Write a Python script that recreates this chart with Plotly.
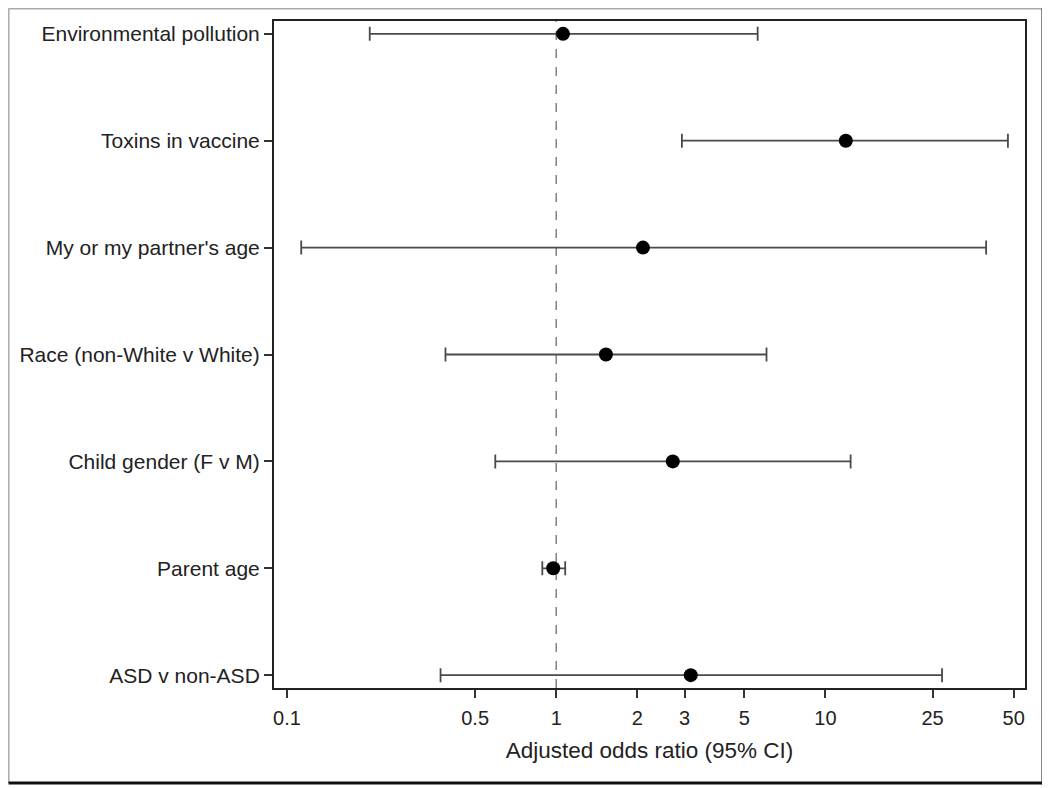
import plotly.graph_objects as go

categories = ["Environmental pollution", "Toxins in vaccine", "My or my partner's age",
              "Race (non-White v White)", "Child gender (F v M)", "Parent age", "ASD v non-ASD"]
odds_ratio = [1.06, 11.9, 2.10, 1.53, 2.71, 0.975, 3.16]
ci_lower = [0.203, 2.93, 0.113, 0.388, 0.594, 0.888, 0.372]
ci_upper = [5.6, 47.6, 39.5, 6.04, 12.4, 1.08, 27.1]
x_ticks = [0.1, 0.5, 1, 2, 3, 5, 10, 25, 50]
x_tick_text = ["0.1", "0.5", "1", "2", "3", "5", "10", "25", "50"]

ypos = list(range(len(categories)))
err_plus = [u - o for u, o in zip(ci_upper, odds_ratio)]
err_minus = [o - l for o, l in zip(odds_ratio, ci_lower)]

fig = go.Figure()
fig.add_trace(go.Scatter(
    x=odds_ratio, y=ypos, mode="markers",
    marker=dict(color="black", size=14, symbol="circle"),
    error_x=dict(type="data", symmetric=False, array=err_plus, arrayminus=err_minus,
                 color="#4a4a4a", thickness=1.8, width=7),
    showlegend=False, hoverinfo="x+y"))

# figure is placed at (8, 8) in the page by the default body margin
W, H = 1042, 780
L, T = 266, 13
R = W - 1017
B = H - 680
pw, ph = W - L - R, H - T - B

def px(x):
    return (x - L) / pw

def py(y):
    return (H - B - y) / ph

shapes = [
    dict(type="line", xref="x", yref="paper", x0=1, x1=1, y0=0, y1=1,
         line=dict(color="#777777", width=1.4, dash="dash"), layer="below"),
    # outer frame
    dict(type="line", xref="paper", yref="paper", x0=px(0.5), x1=px(1035), y0=py(0.8), y1=py(0.8),
         line=dict(color="#aaaaaa", width=1.5)),
    dict(type="line", xref="paper", yref="paper", x0=px(0.8), x1=px(0.8), y0=py(0.5), y1=py(775),
         line=dict(color="#aaaaaa", width=1.5)),
    dict(type="line", xref="paper", yref="paper", x0=px(0.5), x1=px(1036.5), y0=py(775), y1=py(775),
         line=dict(color="#111111", width=3)),
    dict(type="line", xref="paper", yref="paper", x0=px(1035), x1=px(1035), y0=py(0.5), y1=py(776.5),
         line=dict(color="#111111", width=3)),
]

fig.update_layout(
    width=W, height=H,
    margin=dict(l=L, r=R, t=T, b=B),
    paper_bgcolor="white", plot_bgcolor="white",
    font=dict(family="Liberation Sans, Arial, sans-serif", size=21, color="#222222"),
    shapes=shapes,
    xaxis=dict(type="log", range=[-1.048, 1.741], tickvals=x_ticks, ticktext=x_tick_text,
               ticks="outside", ticklen=8, tickwidth=1.5, tickcolor="#333333",
               ticklabelstandoff=3,
               showgrid=False, zeroline=False, showline=True, linecolor="#222222", linewidth=2,
               mirror=True, tickfont=dict(size=20),
               title=dict(text="Adjusted odds ratio (95% CI)", font=dict(size=22.5), standoff=14)),
    yaxis=dict(range=[6.12, -0.12], tickvals=ypos, ticktext=categories,
               ticks="outside", ticklen=8, tickwidth=1.5, tickcolor="#333333",
               showgrid=False, zeroline=False, showline=True, linecolor="#222222", linewidth=2,
               mirror=True, tickfont=dict(size=21)),
)

fig.write_html("out.html")
